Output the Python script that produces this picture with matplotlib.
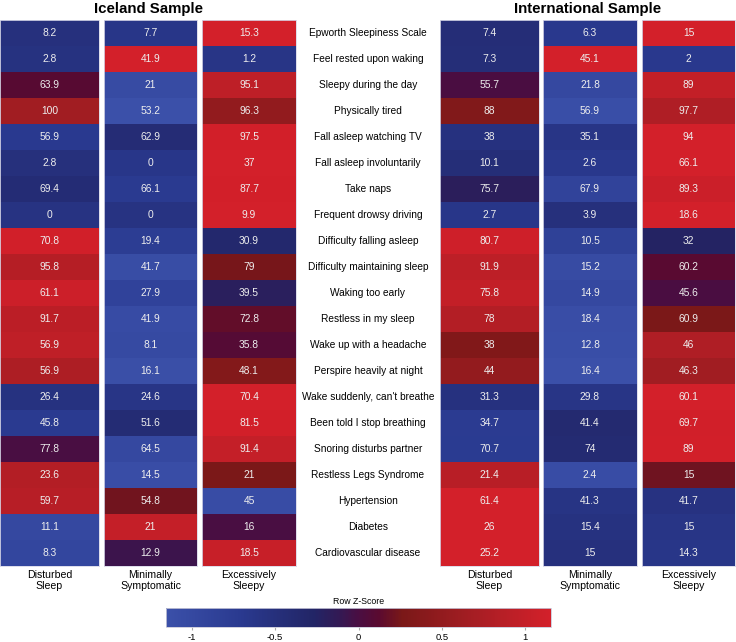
import numpy as np
import matplotlib.pyplot as plt
import matplotlib.transforms as mtransforms
from matplotlib.colors import LinearSegmentedColormap, Normalize
from matplotlib.cm import ScalarMappable

plt.rcParams['font.family'] = ['Liberation Sans', 'DejaVu Sans']

# Data
items = ["Epworth Sleepiness Scale", "Feel rested upon waking", "Sleepy during the day",
         "Physically tired", "Fall asleep watching TV", "Fall asleep involuntarily",
         "Take naps", "Frequent drowsy driving", "Difficulty falling asleep",
         "Difficulty maintaining sleep", "Waking too early", "Restless in my sleep",
         "Wake up with a headache", "Perspire heavily at night", "Wake suddenly, can't breathe",
         "Been told I stop breathing", "Snoring disturbs partner", "Restless Legs Syndrome",
         "Hypertension", "Diabetes", "Cardiovascular disease"]
groups = ["Disturbed\nSleep", "Minimally\nSymptomatic", "Excessively\nSleepy"]

iceland_disturbed = [8.2, 2.8, 63.9, 100, 56.9, 2.8, 69.4, 0, 70.8, 95.8, 61.1,
                     91.7, 56.9, 56.9, 26.4, 45.8, 77.8, 23.6, 59.7, 11.1, 8.3]
iceland_minimal = [7.7, 41.9, 21, 53.2, 62.9, 0, 66.1, 0, 19.4, 41.7, 27.9,
                   41.9, 8.1, 16.1, 24.6, 51.6, 64.5, 14.5, 54.8, 21, 12.9]
iceland_excessive = [15.3, 1.2, 95.1, 96.3, 97.5, 37, 87.7, 9.9, 30.9, 79, 39.5,
                     72.8, 35.8, 48.1, 70.4, 81.5, 91.4, 21, 45, 16, 18.5]

intl_disturbed = [7.4, 7.3, 55.7, 88, 38, 10.1, 75.7, 2.7, 80.7, 91.9, 75.8,
                  78, 38, 44, 31.3, 34.7, 70.7, 21.4, 61.4, 26, 25.2]
intl_minimal = [6.3, 45.1, 21.8, 56.9, 35.1, 2.6, 67.9, 3.9, 10.5, 15.2, 14.9,
                18.4, 12.8, 16.4, 29.8, 41.4, 74, 2.4, 41.3, 15.4, 15]
intl_excessive = [15, 2, 89, 97.7, 94, 66.1, 89.3, 18.6, 32, 60.2, 45.6,
                  60.9, 46, 46.3, 60.1, 69.7, 89, 15, 41.7, 15, 14.3]

cbar_ticks = [-1, -0.5, 0, 0.5, 1]
cbar_ticklabels = ["-1", "-0.5", "0", "0.5", "1"]

# colours (blue -> dark navy -> purple -> dark red -> red)
cmap = LinearSegmentedColormap.from_list("bluered", [
    (0.0, "#3b50a9"), (0.19, "#2a3a90"), (0.383, "#222566"), (0.448, "#321a55"),
    (0.5, "#4a0e42"), (0.552, "#5a0a30"), (0.613, "#7a1818"), (0.81, "#a81e24"),
    (1.0, "#d3202a")])
zmax = 2 / np.sqrt(3)
norm = Normalize(-zmax, zmax)

W, H = 736, 642
fig = plt.figure(figsize=(W / 100, H / 100), dpi=100)


def px_rect(x0, x1, y0, y1):
    return [x0 / W, 1 - y1 / H, (x1 - x0) / W, (y1 - y0) / H]


def row_z(cols):
    m = np.column_stack(cols).astype(float)
    return (m - m.mean(axis=1, keepdims=True)) / m.std(axis=1, ddof=1, keepdims=True)


samples = [
    ("Iceland Sample", [iceland_disturbed, iceland_minimal, iceland_excessive],
     [(0, 99), (104, 197), (202, 296)]),
    ("International Sample", [intl_disturbed, intl_minimal, intl_excessive],
     [(440, 539), (543, 637), (642, 735)]),
]
top, bottom = 20, 566
n = len(items)

for title, cols, xs in samples:
    z = row_z(cols)
    for j, (x0, x1) in enumerate(xs):
        ax = fig.add_axes(px_rect(x0, x1, top, bottom))
        ax.imshow(z[:, j:j + 1], cmap=cmap, norm=norm, aspect="auto",
                  interpolation="nearest")
        for i, v in enumerate(cols[j]):
            ax.text(0, i, f"{v:g}", ha="center", va="center", color="#eeeeee",
                    fontsize=7.4)
        ax.set_yticks([])
        ax.set_xticks([0])
        ax.set_xticklabels([groups[j]], fontsize=7.6, linespacing=1.05)
        ax.tick_params(axis="x", length=0, pad=3)
        for s in ax.spines.values():
            s.set_color("#d8d8e8")
            s.set_linewidth(0.6)
    xc = (xs[0][0] + xs[-1][1]) / 2
    fig.text(xc / W, 1 - 9 / H, title, ha="center", va="center",
             fontsize=10.8, fontweight="bold")

# row labels in the middle
trans = mtransforms.blended_transform_factory(fig.transFigure, ax.transData)
for i, name in enumerate(items):
    fig.text(368 / W, i, name, transform=trans, ha="center", va="center",
             fontsize=7.3)

# colour bar
cax = fig.add_axes(px_rect(166, 551, 608, 627))
cb = fig.colorbar(ScalarMappable(norm=norm, cmap=cmap), cax=cax,
                  orientation="horizontal")
cb.set_ticks(cbar_ticks)
cb.set_ticklabels(cbar_ticklabels)
cb.outline.set_edgecolor("#c8c8d8")
cb.outline.set_linewidth(0.6)
cax.tick_params(labelsize=6.8, length=2.5, color="#aaaaaa", pad=1.5)
cax.set_title("Row Z-Score", fontsize=6.3, pad=3)

fig.savefig("out.png", dpi=100)
